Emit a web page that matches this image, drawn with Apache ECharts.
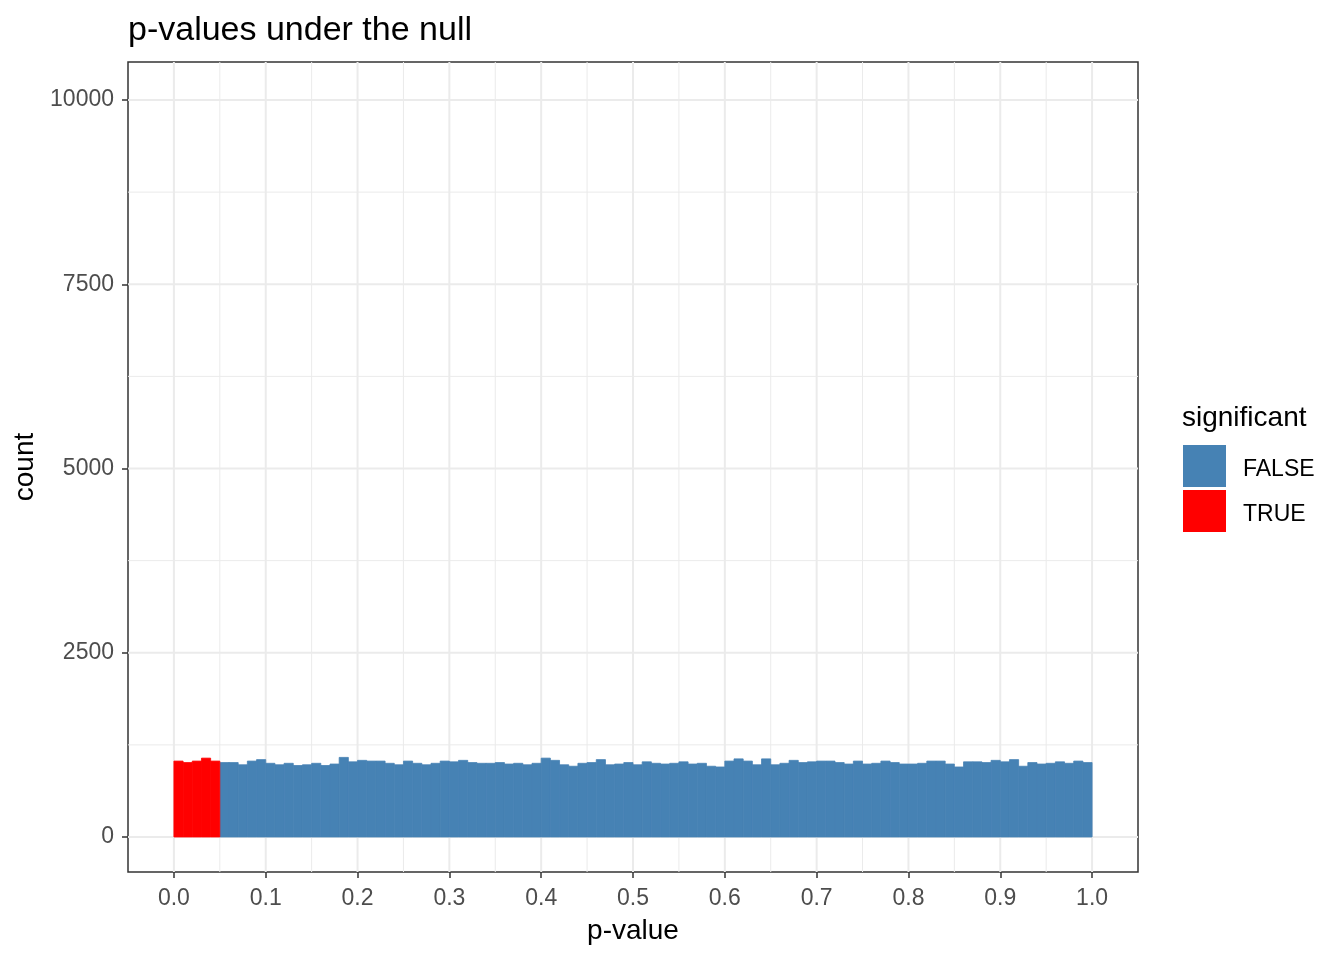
<!DOCTYPE html>
<html>
<head>
<meta charset="utf-8">
<script src="https://cdn.jsdelivr.net/npm/echarts@6/dist/echarts.min.js"></script>
<style>
html,body{margin:0;padding:0;background:#fff;}
#chart{width:1344px;height:960px;}
</style>
</head>
<body>
<div id="chart"></div>
<script>
// Histogram of p-values, bins of width 0.01 from 0 to 1
const binStart = 0;
const binWidth = 0.01;
const counts = [
  1030,1010,1030,1070,1030, 1010,1010,980,1030,1050,
  1000,980,1000,970,980, 1000,970,990,1080,1020,
  1040,1030,1030,1000,980, 1030,1000,980,1000,1030,
  1020,1040,1010,1000,1000, 1010,990,1000,980,1000,
  1070,1040,980,960,1000, 1010,1050,980,990,1010,
  980,1020,1000,990,1000, 1020,990,1000,960,950,
  1030,1060,1030,980,1060, 980,1000,1040,1010,1020,
  1030,1030,1010,990,1030, 990,1000,1030,1010,990,
  990,1000,1030,1030,990, 950,1020,1020,1010,1040,
  1020,1050,960,1010,990, 1000,1020,1000,1030,1010
];
const alpha = 0.05;
const xTicks = [0,0.1,0.2,0.3,0.4,0.5,0.6,0.7,0.8,0.9,1.0];
const xMinor = [0.05,0.15,0.25,0.35,0.45,0.55,0.65,0.75,0.85,0.95];
const yTicks = [0,2500,5000,7500,10000];
const yMinor = [1250,3750,6250,8750];

const xMin = -0.05, xMax = 1.05, yMin = -475, yMax = 10516;

const falseData = [], trueData = [];
counts.forEach((c, i) => {
  const x0 = binStart + i * binWidth, x1 = x0 + binWidth;
  (x1 <= alpha + 1e-9 ? trueData : falseData).push([x0, x1, c]);
});

function rectItem(params, api) {
  const p0 = api.coord([api.value(0), api.value(2)]);
  const p1 = api.coord([api.value(1), 0]);
  const c = api.visual('color');
  return {
    type: 'rect',
    shape: {x: p0[0], y: p0[1], width: p1[0] - p0[0], height: p1[1] - p0[1]},
    style: {fill: c, stroke: c, lineWidth: 0.8}
  };
}
function vLine(width) {
  return function (params, api) {
    const a = api.coord([api.value(0), yMin]);
    const b = api.coord([api.value(0), yMax]);
    return {type: 'line', shape: {x1: a[0], y1: a[1], x2: b[0], y2: b[1]}, style: {stroke: '#EBEBEB', lineWidth: width}};
  };
}
function hLine(width) {
  return function (params, api) {
    const a = api.coord([xMin, api.value(0)]);
    const b = api.coord([xMax, api.value(0)]);
    return {type: 'line', shape: {x1: a[0], y1: a[1], x2: b[0], y2: b[1]}, style: {stroke: '#EBEBEB', lineWidth: width}};
  };
}
const font = 'Liberation Sans, Arial, sans-serif';

const chart = echarts.init(document.getElementById('chart'), null, {renderer: 'canvas'});
chart.setOption({
  animation: false,
  backgroundColor: '#ffffff',
  title: [
    {text: 'p-values under the null', left: 123, top: 9,
     textStyle: {fontFamily: font, fontSize: 34, fontWeight: 'normal', color: '#000'}},
    {text: 'significant', left: 1177, top: 399,
     textStyle: {fontFamily: font, fontSize: 28, fontWeight: 'normal', color: '#000'}}
  ],
  legend: {
    orient: 'vertical', left: 1183, top: 445, padding: 0,
    itemWidth: 43, itemHeight: 42, itemGap: 3,
    icon: 'rect',
    data: ['FALSE', 'TRUE'],
    formatter: '{a|{name}}',
    textStyle: {fontFamily: font, fontSize: 23, color: '#000',
      rich: {a: {fontFamily: font, fontSize: 23, color: '#000', padding: [8, 0, 0, 12]}}},
    selectedMode: false
  },
  grid: {left: 128, top: 62, width: 1010, height: 810, show: true, containLabel: false,
         outerBoundsMode: 'none',
         borderColor: '#333333', borderWidth: 1.5, backgroundColor: 'transparent'},
  xAxis: {
    type: 'value', min: xMin, max: xMax,
    name: 'p-value', nameLocation: 'middle', nameGap: 45,
    nameTextStyle: {fontFamily: font, fontSize: 28, color: '#000'},
    axisLine: {show: false, onZero: false},
    axisTick: {show: true, length: 6, lineStyle: {color: '#333333', width: 1.5}, customValues: xTicks},
    axisLabel: {fontFamily: font, fontSize: 23, color: '#4D4D4D', margin: 15, customValues: xTicks,
                formatter: v => v.toFixed(1)},
    splitLine: {show: false}
  },
  yAxis: {
    type: 'value', min: yMin, max: yMax,
    name: 'count', nameLocation: 'middle', nameGap: 80, nameRotate: 90,
    nameTextStyle: {fontFamily: font, fontSize: 28, color: '#000'},
    axisLine: {show: false, onZero: false},
    axisTick: {show: true, length: 6, lineStyle: {color: '#333333', width: 1.5}, customValues: yTicks},
    axisLabel: {fontFamily: font, fontSize: 23, color: '#4D4D4D', margin: 14, customValues: yTicks,
                formatter: v => String(v)},
    splitLine: {show: false}
  },
  series: [
    {type: 'custom', name: 'gx-minor', silent: true, z: 1, data: xMinor.map(v => [v]), renderItem: vLine(1), encode: {x: 0}},
    {type: 'custom', name: 'gx-major', silent: true, z: 1, data: xTicks.map(v => [v]), renderItem: vLine(2), encode: {x: 0}},
    {type: 'custom', name: 'gy-minor', silent: true, z: 1, data: yMinor.map(v => [v]), renderItem: hLine(1), encode: {y: 0}},
    {type: 'custom', name: 'gy-major', silent: true, z: 1, data: yTicks.map(v => [v]), renderItem: hLine(2), encode: {y: 0}},
    {type: 'custom', name: 'FALSE', z: 2, itemStyle: {color: '#4682B4'}, data: falseData,
     renderItem: rectItem, encode: {x: [0, 1], y: 2}},
    {type: 'custom', name: 'TRUE', z: 2, itemStyle: {color: '#FF0000'}, data: trueData,
     renderItem: rectItem, encode: {x: [0, 1], y: 2}}
  ]
});
</script>
</body>
</html>
